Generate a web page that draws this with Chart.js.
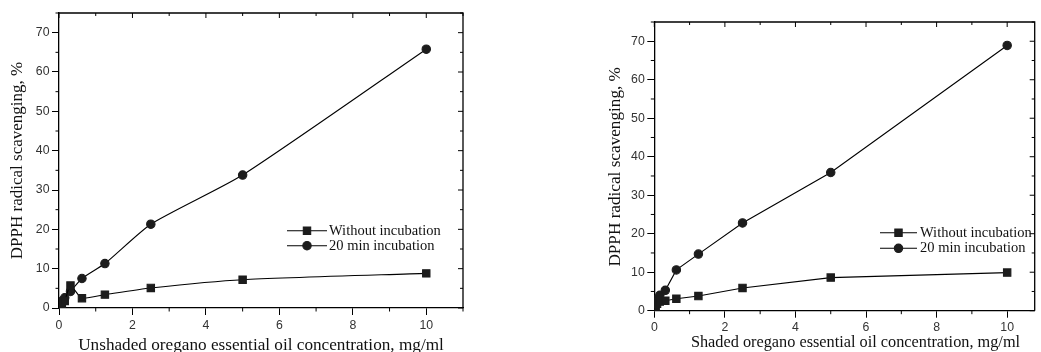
<!DOCTYPE html>
<html>
<head>
<meta charset="utf-8">
<script src="https://cdn.jsdelivr.net/npm/chart.js@4.4.0/dist/chart.umd.min.js"></script>
<style>
  html, body { margin: 0; padding: 0; background: #fff; overflow: hidden; }
  body { width: 1041px; height: 352px; position: relative; }
  .box { position: absolute; top: 0; height: 352px; }
  #boxA { left: 0; width: 470px; }
  #boxB { left: 590px; width: 451px; }
</style>
</head>
<body>
<div class="box" id="boxA"><canvas id="unshadedChart"></canvas></div>
<div class="box" id="boxB"><canvas id="shadedChart"></canvas></div>
<script>
// oregano oil concentrations, mg/ml
var concentrations = [0.039, 0.078, 0.156, 0.3125, 0.625, 1.25, 2.5, 5, 10];

// DPPH radical scavenging, %
var unshadedWithout = [0.5, 1.0, 1.8, 5.7, 2.5, 3.4, 5.1, 7.2, 8.8];
var unshaded20min = [1.2, 1.8, 2.6, 4.2, 7.5, 11.3, 21.3, 33.8, 65.8];
var shadedWithout = [0.8, 1.8, 2.4, 2.6, 3.1, 3.8, 5.9, 8.6, 9.9];
var shaded20min = [2.2, 3.0, 4.0, 5.3, 10.6, 14.7, 22.8, 35.9, 68.9];

var seriesLabels = ['Without incubation', '20 min incubation'];
var yTitle = 'DPPH radical scavenging, %';
var xTickLabels = [0, 2, 4, 6, 8, 10];
var yTickLabels = [0, 10, 20, 30, 40, 50, 60, 70];
var xMinorTicks = [1, 3, 5, 7, 9, 11];
var yMinorTicks = [5, 15, 25, 35, 45, 55, 65, 75];

var ink = '#111';
var serif = '"Liberation Serif", "Times New Roman", serif';

// top/right frame, minor ticks and mirrored ticks (Origin style box)
var boxFrame = {
  id: 'boxFrame',
  afterDatasetsDraw: function (chart) {
    var ctx = chart.ctx, a = chart.chartArea;
    var xs = chart.scales.x, ys = chart.scales.y;
    ctx.save();
    ctx.strokeStyle = '#000';
    ctx.lineWidth = 1.3;
    ctx.beginPath();
    ctx.moveTo(a.left, a.top); ctx.lineTo(a.right, a.top); ctx.lineTo(a.right, a.bottom);
    ctx.stroke();
    ctx.lineWidth = 1;
    ctx.beginPath();
    xTickLabels.forEach(function (v) {
      var px = xs.getPixelForValue(v);
      if (px > a.right) return;
      ctx.moveTo(px, a.top); ctx.lineTo(px, a.top + 5);
    });
    xMinorTicks.forEach(function (v) {
      var px = xs.getPixelForValue(v);
      if (px > a.right) return;
      ctx.moveTo(px, a.bottom); ctx.lineTo(px, a.bottom + 3.5);
      ctx.moveTo(px, a.top); ctx.lineTo(px, a.top + 3);
    });
    yTickLabels.forEach(function (v) {
      var py = ys.getPixelForValue(v);
      ctx.moveTo(a.right, py); ctx.lineTo(a.right - 5, py);
    });
    yMinorTicks.forEach(function (v) {
      var py = ys.getPixelForValue(v);
      ctx.moveTo(a.left, py); ctx.lineTo(a.left - 3.5, py);
      ctx.moveTo(a.right, py); ctx.lineTo(a.right - 3, py);
    });
    ctx.stroke();
    ctx.restore();
  }
};

// legend drawn inside the plot, line - marker - label
var boxLegend = {
  id: 'boxLegend',
  afterDraw: function (chart, args, opts) {
    if (!opts || opts.x === undefined) return;
    var ctx = chart.ctx;
    chart.data.datasets.forEach(function (ds, i) {
      var y = opts.y + i * opts.rowGap;
      ctx.save();
      ctx.strokeStyle = '#000';
      ctx.lineWidth = 1.1;
      ctx.beginPath();
      ctx.moveTo(opts.x, y); ctx.lineTo(opts.x + opts.lineLen, y);
      ctx.stroke();
      ctx.fillStyle = ds.pointBackgroundColor;
      ctx.strokeStyle = ds.pointBorderColor;
      Chart.helpers.drawPoint(ctx, { pointStyle: ds.pointStyle, radius: ds.pointRadius, rotation: 0, borderWidth: 1 },
        opts.x + opts.lineLen / 2, y);
      ctx.fillStyle = ink;
      ctx.font = opts.fontSize + 'px ' + serif;
      ctx.textBaseline = 'middle';
      ctx.textAlign = 'left';
      ctx.fillText(ds.label, opts.x + opts.lineLen + opts.gap, y);
      ctx.restore();
    });
  }
};

// axis titles, placed relative to the plot area
var axisTitles = {
  id: 'axisTitles',
  afterDraw: function (chart, args, o) {
    if (!o || !o.xText) return;
    var ctx = chart.ctx, a = chart.chartArea;
    ctx.save();
    ctx.fillStyle = ink;
    ctx.textAlign = 'center';
    ctx.textBaseline = 'alphabetic';
    ctx.font = o.xSize + 'px ' + serif;
    ctx.fillText(o.xText, (a.left + a.right) / 2 + o.xDx, o.xBase);
    ctx.translate(o.yBase, (a.top + a.bottom) / 2 + o.yDy);
    ctx.rotate(-Math.PI / 2);
    ctx.font = o.ySize + 'px ' + serif;
    ctx.fillText(yTitle, 0, 0);
    ctx.restore();
  }
};

function toPoints(values) {
  return concentrations.map(function (c, i) { return { x: c, y: values[i] }; });
}

function makeChart(id, withoutVals, incubVals, cfg) {
  var tickFont = { family: '"Liberation Sans", Arial, sans-serif', size: 12.3 };
  return new Chart(document.getElementById(id), {
    type: 'line',
    data: {
      datasets: [{
        label: seriesLabels[0],
        data: toPoints(withoutVals),
        borderColor: '#000',
        borderWidth: 1.1,
        pointStyle: 'rect',
        pointRadius: 5.2,
        pointBackgroundColor: '#1c1c1c',
        pointBorderColor: '#1c1c1c',
        tension: cfg.tension,
        fill: false
      }, {
        label: seriesLabels[1],
        data: toPoints(incubVals),
        borderColor: '#000',
        borderWidth: 1.1,
        pointStyle: 'circle',
        pointRadius: 4.2,
        pointBackgroundColor: '#1c1c1c',
        pointBorderColor: '#1c1c1c',
        tension: cfg.tension,
        fill: false
      }]
    },
    options: {
      responsive: true,
      maintainAspectRatio: false,
      animation: false,
      layout: { padding: { top: cfg.top, right: cfg.right, left: 0, bottom: 0 } },
      plugins: {
        legend: { display: false },
        tooltip: { enabled: false },
        boxLegend: cfg.legend,
        axisTitles: cfg.titles
      },
      scales: {
        x: {
          type: 'linear',
          min: 0,
          max: cfg.xMax,
          afterBuildTicks: function (s) { s.ticks = xTickLabels.map(function (v) { return { value: v }; }); },
          afterFit: function (s) { s.height = cfg.xHeight; },
          ticks: { font: tickFont, color: '#333', padding: 3, maxRotation: 0 },
          grid: { drawOnChartArea: false, tickLength: 7, tickColor: '#000', tickWidth: 1 },
          border: { color: '#000', width: 1.3 }
        },
        y: {
          min: 0,
          max: 75,
          afterBuildTicks: function (s) { s.ticks = yTickLabels.map(function (v) { return { value: v }; }); },
          afterFit: function (s) { s.width = cfg.yWidth; },
          ticks: { font: tickFont, color: '#333', padding: 2.5 },
          grid: { drawOnChartArea: false, tickLength: 7, tickColor: '#000', tickWidth: 1 },
          border: { color: '#000', width: 1.3 }
        }
      }
    },
    plugins: [boxFrame, boxLegend, axisTitles]
  });
}

makeChart('unshadedChart', unshadedWithout, unshaded20min, {
  top: 13, right: 7, xMax: 11, xHeight: 44, yWidth: 59, tension: 0.2,
  titles: { xText: 'Unshaded oregano essential oil concentration, mg/ml', xSize: 17.2, xDx: 0, xBase: 350,
            ySize: 17, yBase: 21.5, yDy: 0 },
  legend: { x: 287, y: 230.7, rowGap: 15, lineLen: 40, gap: 2, fontSize: 14.5 }
});

makeChart('shadedChart', shadedWithout, shaded20min, {
  top: 22, right: 0.5, xMax: 10.78, xHeight: 41.3, yWidth: 64.3, tension: 0,
  titles: { xText: 'Shaded oregano essential oil concentration, mg/ml', xSize: 16.3, xDx: 11, xBase: 347,
            ySize: 17.2, yBase: 29.7, yDy: 0.5 },
  legend: { x: 290, y: 232.7, rowGap: 15.6, lineLen: 37, gap: 3, fontSize: 14.5 }
});
</script>
</body>
</html>
